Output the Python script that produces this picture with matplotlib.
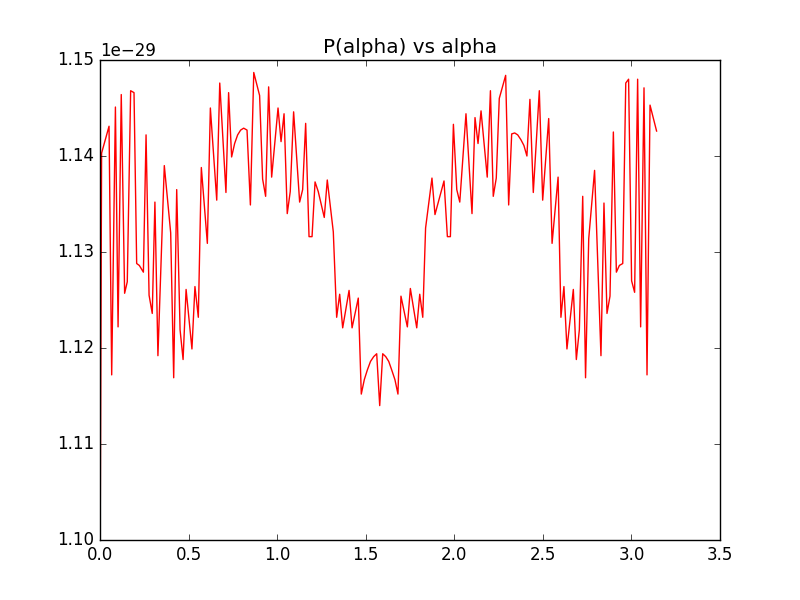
import numpy as np
import matplotlib
matplotlib.use("Agg")
import matplotlib.pyplot as plt

# values (alpha, P in units of 1e-29)
alpha = [0.0, 0.009, 0.051, 0.066, 0.087, 0.102, 0.120, 0.139, 0.154, 0.173, 0.192,
         0.207, 0.222, 0.245, 0.260, 0.277, 0.295, 0.310, 0.327, 0.363, 0.399,
         0.416, 0.433, 0.452, 0.469, 0.486, 0.519, 0.536, 0.555, 0.572, 0.606,
         0.623, 0.659, 0.676, 0.711, 0.726, 0.743, 0.760, 0.777, 0.794, 0.811,
         0.830, 0.849, 0.868, 0.901, 0.918, 0.935, 0.952, 0.969, 1.005, 1.022,
         1.039, 1.057, 1.074, 1.093, 1.127, 1.144, 1.161, 1.180, 1.197, 1.214,
         1.232, 1.266, 1.283, 1.317, 1.336, 1.353, 1.370, 1.406, 1.423, 1.458,
         1.475, 1.492, 1.509, 1.527, 1.545, 1.562, 1.579, 1.596, 1.613, 1.630,
         1.647, 1.665, 1.682, 1.699, 1.735, 1.752, 1.788, 1.805, 1.822, 1.838,
         1.874, 1.891, 1.942, 1.961, 1.978, 1.995, 2.014, 2.031, 2.066, 2.100,
         2.117, 2.134, 2.151, 2.186, 2.204, 2.220, 2.237, 2.254, 2.290, 2.307,
         2.324, 2.341, 2.358, 2.376, 2.393, 2.410, 2.427, 2.446, 2.480, 2.499,
         2.533, 2.552, 2.586, 2.602, 2.619, 2.636, 2.672, 2.689, 2.706, 2.725,
         2.741, 2.759, 2.792, 2.828, 2.845, 2.862, 2.879, 2.898, 2.915, 2.932,
         2.951, 2.968, 2.984, 3.001, 3.018, 3.035, 3.052, 3.071, 3.088, 3.105,
         3.142]
P = [1.095, 1.1403, 1.1431, 1.1172, 1.1451, 1.1222, 1.1464, 1.1257, 1.1269, 1.1468, 1.1466,
     1.1288, 1.1286, 1.1279, 1.1422, 1.1255, 1.1236, 1.1352, 1.1192, 1.1390, 1.1320,
     1.1169, 1.1365, 1.1219, 1.1188, 1.1261, 1.1199, 1.1264, 1.1232, 1.1388, 1.1309,
     1.1450, 1.1354, 1.1476, 1.1362, 1.1466, 1.1399, 1.1413, 1.1422, 1.1427, 1.1429,
     1.1427, 1.1349, 1.1487, 1.1463, 1.1376, 1.1358, 1.1472, 1.1378, 1.1450, 1.1415,
     1.1444, 1.1340, 1.1363, 1.1446, 1.1352, 1.1365, 1.1434, 1.1316, 1.1316, 1.1373,
     1.1363, 1.1336, 1.1375, 1.1321, 1.1232, 1.1256, 1.1221, 1.1260, 1.1221, 1.1252,
     1.1152, 1.1167, 1.1177, 1.1186, 1.1191, 1.1194, 1.1140, 1.1194, 1.1191, 1.1186,
     1.1177, 1.1167, 1.1152, 1.1254, 1.1222, 1.1262, 1.1221, 1.1256, 1.1232, 1.1325,
     1.1377, 1.1339, 1.1374, 1.1316, 1.1316, 1.1433, 1.1365, 1.1352, 1.1444, 1.1340,
     1.1440, 1.1413, 1.1447, 1.1378, 1.1468, 1.1358, 1.1377, 1.1460, 1.1484, 1.1349,
     1.1423, 1.1424, 1.1422, 1.1417, 1.1411, 1.1400, 1.1459, 1.1362, 1.1468, 1.1354,
     1.1439, 1.1309, 1.1378, 1.1232, 1.1264, 1.1199, 1.1261, 1.1188, 1.1219, 1.1358,
     1.1169, 1.1314, 1.1385, 1.1192, 1.1351, 1.1236, 1.1254, 1.1425, 1.1279, 1.1286,
     1.1288, 1.1476, 1.1480, 1.1270, 1.1258, 1.1480, 1.1222, 1.1471, 1.1172, 1.1453,
     1.1426]

plt.style.use('classic')
fig = plt.figure(figsize=(8, 6), dpi=100)
ax = fig.add_subplot(111)
ax.plot(alpha, np.array(P) * 1e-29, 'r-')
ax.set_xlim(0, 3.5)
ax.set_ylim(1.10e-29, 1.15e-29)
ax.ticklabel_format(axis='y', useOffset=False)
ax.set_title('P(alpha) vs alpha')
fig.savefig('out.png')
